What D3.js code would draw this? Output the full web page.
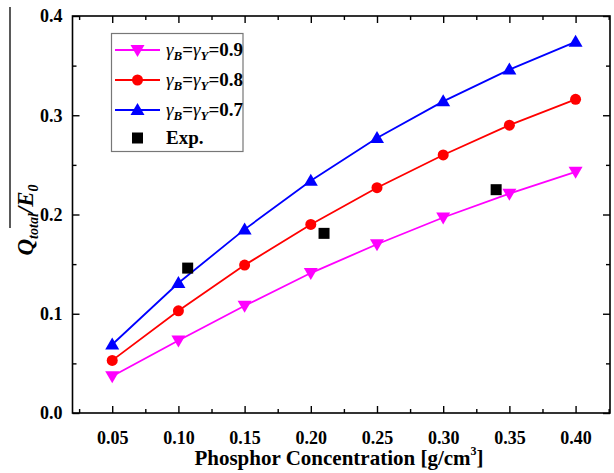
<!DOCTYPE html>
<html><head><meta charset="utf-8">
<script src="https://cdn.jsdelivr.net/npm/d3@7"></script>
<style>body{margin:0;background:#fff}svg{display:block}svg text{font-family:'Liberation Serif','Times New Roman','DejaVu Serif',serif !important}</style>
</head><body><svg id="c" width="614" height="473"></svg>
<script>
const concentrations = [0.05, 0.10, 0.15, 0.20, 0.25, 0.30, 0.35, 0.40];
const gamma09 = [0.037, 0.073, 0.108, 0.141, 0.170, 0.197, 0.221, 0.243];
const gamma08 = [0.053, 0.103, 0.149, 0.190, 0.227, 0.260, 0.290, 0.316];
const gamma07 = [0.069, 0.131, 0.185, 0.234, 0.277, 0.314, 0.346, 0.374];
const expX = [0.107, 0.21, 0.34];
const expY = [0.146, 0.181, 0.225];
const xTicks = [0.05, 0.10, 0.15, 0.20, 0.25, 0.30, 0.35, 0.40];
const xMinorTicks = [0.025, 0.075, 0.125, 0.175, 0.225, 0.275, 0.325, 0.375, 0.425];
const yTicks = [0.0, 0.1, 0.2, 0.3, 0.4];
const yMinorTicks = [0.05, 0.15, 0.25, 0.35];
const seriesNames = ["0.9", "0.8", "0.7"];
const seriesColors = ["#ff00ff", "#ff0000", "#0000ff"];

const svg = d3.select("#c");
const L = 72.5, R = 610, T = 16, B = 413;
const x = d3.scaleLinear().domain([0.02, 0.426]).range([L, R]);
const y = d3.scaleLinear().domain([0, 0.4]).range([B, T]);

// frame
svg.append("rect").attr("x", L).attr("y", T).attr("width", R - L).attr("height", B - T)
  .attr("fill", "none").attr("stroke", "#000").attr("stroke-width", 1.6);

// axes with inward ticks
const fmt2 = d3.format(".2f"), fmt1 = d3.format(".1f");
svg.append("g").attr("transform", `translate(0,${B})`)
  .call(d3.axisBottom(x).tickValues(xTicks).tickSize(-7).tickPadding(18).tickFormat(fmt2));
svg.append("g").attr("transform", `translate(0,${B})`)
  .call(d3.axisBottom(x).tickValues(xMinorTicks).tickSize(-4).tickFormat(""));
svg.append("g").attr("transform", `translate(0,${T})`)
  .call(d3.axisTop(x).tickValues(xTicks).tickSize(-7).tickFormat(""));
svg.append("g").attr("transform", `translate(0,${T})`)
  .call(d3.axisTop(x).tickValues(xMinorTicks).tickSize(-4).tickFormat(""));
svg.append("g").attr("transform", `translate(${L},0)`)
  .call(d3.axisLeft(y).tickValues(yTicks).tickSize(-7).tickPadding(10).tickFormat(fmt1));
svg.append("g").attr("transform", `translate(${L},0)`)
  .call(d3.axisLeft(y).tickValues(yMinorTicks).tickSize(-4).tickFormat(""));
svg.append("g").attr("transform", `translate(${R},0)`)
  .call(d3.axisRight(y).tickValues(yTicks).tickSize(-7).tickFormat(""));
svg.append("g").attr("transform", `translate(${R},0)`)
  .call(d3.axisRight(y).tickValues(yMinorTicks).tickSize(-4).tickFormat(""));
svg.selectAll(".domain").remove();
svg.selectAll(".tick line").attr("stroke", "#000").attr("stroke-width", 1.4);
svg.selectAll(".tick text").attr("font-family", null).attr("font-weight", "bold")
  .attr("font-size", 18).attr("fill", "#000");

// series
const data = [gamma09, gamma08, gamma07];
const shapes = ["tdown", "circle", "tup"];
const line = d3.line().x((d, i) => x(concentrations[i])).y(d => y(d));
function marker(g, shape, cx, cy, color) {
  if (shape === "circle") {
    g.append("circle").attr("cx", cx).attr("cy", cy).attr("r", 5.5).attr("fill", color);
  } else if (shape === "tup") {
    g.append("path").attr("d", `M${cx},${cy - 7}L${cx + 7},${cy + 5}L${cx - 7},${cy + 5}Z`).attr("fill", color);
  } else if (shape === "tdown") {
    g.append("path").attr("d", `M${cx},${cy + 7}L${cx + 7},${cy - 5}L${cx - 7},${cy - 5}Z`).attr("fill", color);
  } else if (shape === "square") {
    g.append("rect").attr("x", cx - 5.5).attr("y", cy - 5.5).attr("width", 11).attr("height", 11).attr("fill", color);
  }
}
data.forEach((vals, k) => {
  svg.append("path").datum(vals).attr("d", line).attr("fill", "none")
    .attr("stroke", seriesColors[k]).attr("stroke-width", 1.8);
  const g = svg.append("g");
  vals.forEach((v, i) => marker(g, shapes[k], x(concentrations[i]), y(v), seriesColors[k]));
});
const ge = svg.append("g");
expX.forEach((v, i) => marker(ge, "square", x(v), y(expY[i]), "#000"));

// legend
const lg = svg.append("g");
lg.append("rect").attr("x", 111.5).attr("y", 33.5).attr("width", 131.5).attr("height", 118)
  .attr("fill", "#fff").attr("stroke", "#777").attr("stroke-width", 1.2);
const rowsY = [50, 80, 110];
[0, 1, 2].forEach(k => {
  const yy = rowsY[k];
  lg.append("line").attr("x1", 115).attr("x2", 160).attr("y1", yy).attr("y2", yy)
    .attr("stroke", seriesColors[k]).attr("stroke-width", 1.8);
  marker(lg, shapes[k], 137.5, yy, seriesColors[k]);
  const t = lg.append("text").attr("x", 166).attr("y", yy + 6).attr("font-size", 19).attr("font-weight", "bold");
  t.append("tspan").attr("font-style", "italic").attr("font-weight", "normal").text("γ");
  t.append("tspan").attr("font-style", "italic").attr("font-size", 13).attr("dy", 4).text("B");
  t.append("tspan").attr("dy", -4).text("=");
  t.append("tspan").attr("font-style", "italic").attr("font-weight", "normal").text("γ");
  t.append("tspan").attr("font-style", "italic").attr("font-size", 13).attr("dy", 4).text("Y");
  t.append("tspan").attr("dy", -4).text("=" + seriesNames[k]);
});
marker(lg, "square", 137.5, 138, "#000");
lg.append("text").attr("x", 166).attr("y", 144).attr("font-size", 19).attr("font-weight", "bold").text("Exp.");

// x label
const xl = svg.append("text").attr("x", 339).attr("y", 465).attr("text-anchor", "middle")
  .attr("font-size", 21).attr("font-weight", "bold");
xl.append("tspan").text("Phosphor Concentration [g/cm");
xl.append("tspan").attr("font-size", 12).attr("dy", -10).text("3");
xl.append("tspan").attr("dy", 10).text("]");

// y label
const yl = svg.append("text").attr("transform", "translate(33,220) rotate(-90)").attr("text-anchor", "middle")
  .attr("font-size", 23).attr("font-weight", "bold").attr("font-style", "italic");
yl.append("tspan").text("Q");
yl.append("tspan").attr("font-size", 14).attr("dy", 5).text("total");
yl.append("tspan").attr("dy", -5).text("/E");
yl.append("tspan").attr("font-size", 14).attr("dy", 5).text("0");
svg.append("line").attr("x1", 10).attr("x2", 10).attr("y1", 7).attr("y2", 228)
  .attr("stroke", "#000").attr("stroke-width", 1.3);
</script></body></html>
